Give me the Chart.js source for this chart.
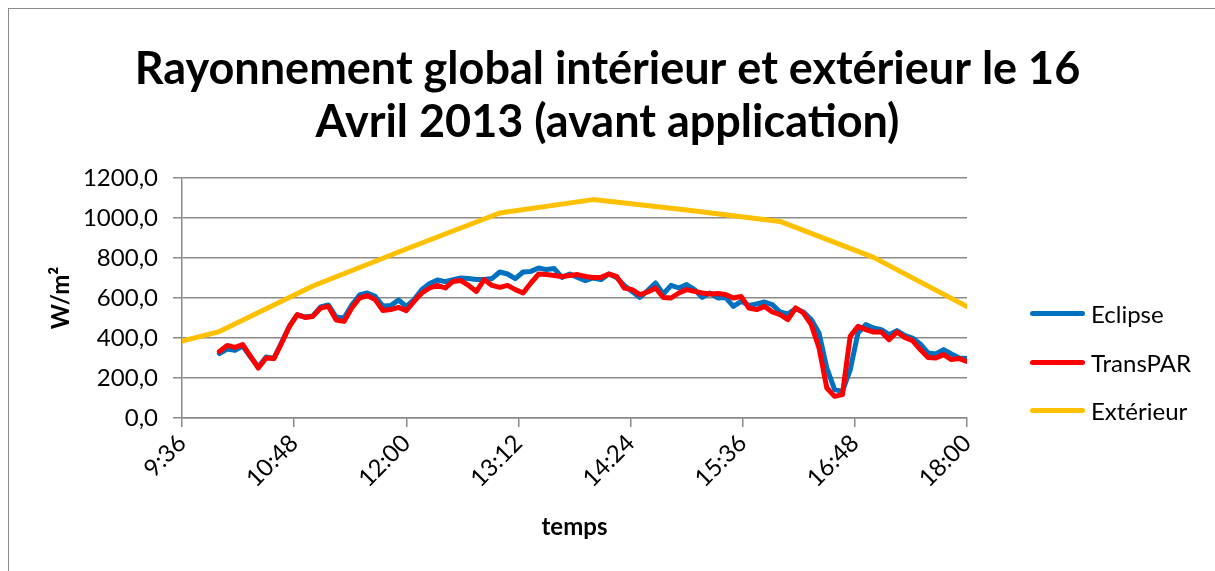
<!DOCTYPE html>
<html>
<head>
<meta charset="utf-8">
<script src="https://cdn.jsdelivr.net/npm/chart.js@4/dist/chart.umd.min.js"></script>
<style>
body{margin:0;background:#fff;font-family:Lato,sans-serif;}
#wrap{position:relative;width:1215px;height:571px;overflow:hidden;}
#frame{position:absolute;left:8px;top:8px;width:1300px;height:700px;border-left:1px solid #8c8c8c;border-top:1px solid #8c8c8c;}
#legend{position:absolute;left:1030px;top:297px;}
.item{position:relative;height:48.5px;}
.sw{position:absolute;left:0;top:14px;width:55px;height:5px;border-radius:3px;}
.lb{position:absolute;left:61px;top:0;font-size:24px;line-height:33px;color:#000;white-space:nowrap;}
</style>
</head>
<body>
<div id="wrap">
<div id="frame"></div>
<canvas id="c"></canvas>
<div id="legend"></div>
</div>
<script>
var temps=['10:00','10:05','10:10','10:15','10:20','10:25','10:30','10:35','10:40','10:45','10:50','10:55',
'11:00','11:05','11:10','11:15','11:20','11:25','11:30','11:35','11:40','11:45','11:50','11:55',
'12:00','12:05','12:10','12:15','12:20','12:25','12:30','12:35','12:40','12:45','12:50','12:55',
'13:00','13:05','13:10','13:15','13:20','13:25','13:30','13:35','13:40','13:45','13:50','13:55',
'14:00','14:05','14:10','14:15','14:20','14:25','14:30','14:35','14:40','14:45','14:50','14:55',
'15:00','15:05','15:10','15:15','15:20','15:25','15:30','15:35','15:40','15:45','15:50','15:55',
'16:00','16:05','16:10','16:15','16:20','16:25','16:30','16:35','16:40','16:45','16:50','16:55',
'17:00','17:05','17:10','17:15','17:20','17:25','17:30','17:35','17:40','17:45','17:50','17:55','18:00'];
var eclipse=[322,345,338,360,305,255,305,298,378,460,515,505,
510,555,565,505,500,565,615,625,608,560,562,590,
558,592,642,672,690,682,692,700,697,692,692,697,
730,720,697,730,733,750,742,747,703,720,703,687,
700,692,720,703,663,633,603,637,675,620,663,650,
667,642,603,625,600,603,558,583,563,570,580,567,
530,520,547,530,492,425,250,142,133,240,425,467,
450,442,417,437,413,400,370,325,320,342,320,300,297];
var transpar=[333,363,353,367,308,250,300,297,375,458,517,503,
508,550,558,490,483,550,600,612,592,537,542,553,
537,583,625,650,663,650,683,687,663,633,692,663,
653,663,642,625,675,720,717,713,708,713,717,708,
703,703,720,708,650,642,617,630,650,603,600,625,
642,633,625,620,622,617,600,608,550,542,558,530,
517,492,550,525,467,350,150,108,117,408,458,442,
430,430,392,430,403,387,342,303,300,317,292,297,283];
var tempsExt=['9:36','10:00','11:00','12:00','13:00','14:00','15:00','16:00','17:00','18:00'];
var exterieur=[385,432,660,845,1025,1092,1040,983,803,557];
var yTicks=[0,200,400,600,800,1000,1200];

function toMin(s){var p=s.split(':');return (+p[0])*60+(+p[1]);}
function fmtTime(v){var h=Math.floor(v/60),m=Math.round(v%60);return h+':'+(m<10?'0':'')+m;}
function pts(tt,vals){var a=[];for(var i=0;i<tt.length;i++) a.push({x:toMin(tt[i]),y:vals[i]});return a;}

var series=[
  {label:'Eclipse',color:'#0070C0',data:pts(temps,eclipse),order:2},
  {label:'TransPAR',color:'#FF0000',data:pts(temps,transpar),order:1},
  {label:'Extérieur',color:'#FFC000',data:pts(tempsExt,exterieur),order:3}
];

var datasets=series.map(function(s){
  return {label:s.label,data:s.data,borderColor:s.color,backgroundColor:s.color,borderWidth:5,
    pointRadius:0,tension:0,borderJoinStyle:'round',borderCapStyle:'round',order:s.order};
});

var leg='';
series.forEach(function(s){
  leg+='<div class="item"><div class="sw" style="background:'+s.color+'"></div><div class="lb">'+s.label+'</div></div>';
});
document.getElementById('legend').innerHTML=leg;

var grid='#8a8a8a';
new Chart(document.getElementById('c'),{
  type:'line',
  data:{datasets:datasets},
  options:{
    responsive:true,maintainAspectRatio:false,animation:false,
    layout:{padding:0},
    plugins:{
      legend:{display:false},
      tooltip:{enabled:false},
      title:{display:true,text:['Rayonnement global intérieur et extérieur le 16','Avril 2013 (avant application)'],
        color:'#000',font:{family:'Lato',size:45,weight:'bold',lineHeight:'53px'},padding:{top:43,bottom:29}}
    },
    scales:{
      x:{type:'linear',min:576,max:1080,
        afterFit:function(s){s.height=153;},
        afterBuildTicks:function(s){var t=[];for(var v=576;v<=1080;v+=72) t.push({value:v});s.ticks=t;},
        ticks:{color:'#000',font:{family:'Lato',size:24},maxRotation:45,minRotation:45,autoSkip:false,padding:2,
          callback:function(v){return fmtTime(v);}},
        grid:{drawOnChartArea:false,color:grid,tickLength:9,lineWidth:1.5},
        border:{color:grid,width:1.5},
        title:{display:true,text:'temps',color:'#000',font:{family:'Lato',size:24,weight:'bold'},padding:{top:0,bottom:29}}
      },
      y:{min:0,max:1200,
        afterFit:function(s){s.width=182;},
        afterBuildTicks:function(s){s.ticks=yTicks.map(function(v){return {value:v};});},
        ticks:{color:'#000',font:{family:'Lato',size:24},padding:15,
          callback:function(v){return v.toFixed(1).replace('.',',');}},
        grid:{color:grid,tickLength:9,lineWidth:1.5},
        border:{color:grid,width:1.5},
        title:{display:true,text:'W/m²',color:'#000',font:{family:'Lato',size:24,weight:'bold'},padding:{top:47,bottom:0}}
      },
      legendSpace:{type:'linear',position:'right',min:0,max:1,
        afterFit:function(s){s.width=248;},
        ticks:{display:false},grid:{display:false},border:{display:false}
      }
    }
  }
});
</script>
</body>
</html>
